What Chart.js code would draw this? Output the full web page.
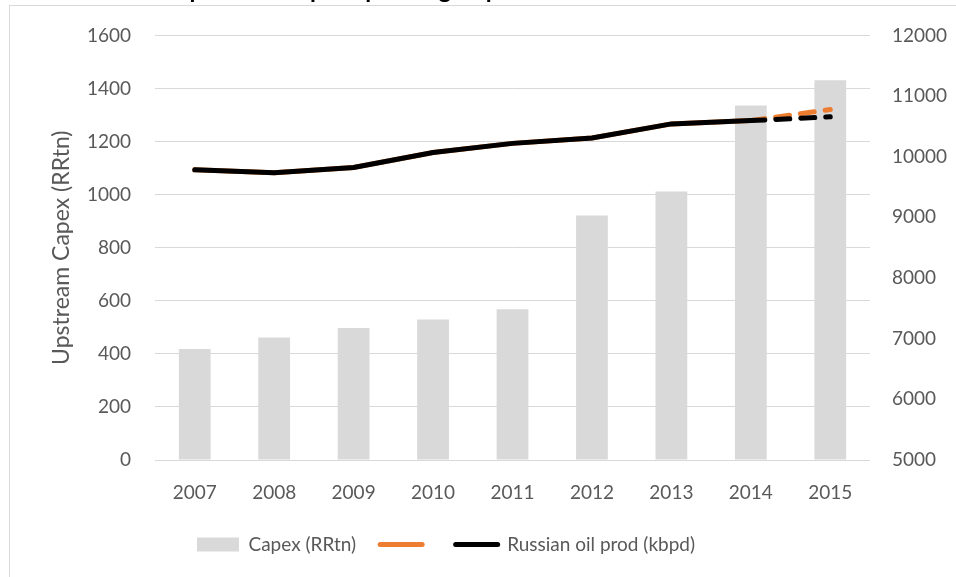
<!DOCTYPE html>
<html>
<head>
<meta charset="utf-8">
<script src="https://cdn.jsdelivr.net/npm/chart.js@4"></script>
<style>
  html, body { margin: 0; padding: 0; background: #fff; overflow: hidden; }
  #wrap { position: relative; width: 956px; height: 577px; }
  #frame { position: absolute; left: 9px; top: 5px; width: 960px; height: 600px; border: 1px solid #d9d9d9; box-sizing: border-box; }
  canvas { position: absolute; left: 0; top: 0; }
</style>
</head>
<body>
<div id="wrap">
  <div id="frame"></div>
  <canvas id="chart" width="956" height="577"></canvas>
</div>
<script>
// chart data
const chartTitle = "Upstream Capex spending vs production";
const years = ["2007", "2008", "2009", "2010", "2011", "2012", "2013", "2014", "2015"];
const capex = [418, 462, 497, 529, 568, 921, 1012, 1336, 1431];
const oilProd = [9785, 9735, 9823, 10070, 10220, 10310, 10541, 10596, 10657];
const oilProdAlt = [9785, 9735, 9823, 10070, 10220, 10310, 10541, 10596, 10778];
const forecastFrom = 7; // index where dashed part starts

const textColor = "#595959";
const gridColor = "#d9d9d9";
const fontFamily = "Lato, 'Open Sans', sans-serif";

const dashAfter = (ctx) => (ctx.p0DataIndex >= forecastFrom ? [14, 11] : undefined);
const plainNumber = (v) => String(v);

// title sits mostly above the visible area, only its lower part shows
const cutTitle = {
  id: "cutTitle",
  afterDraw(chart) {
    const ctx = chart.ctx;
    ctx.save();
    ctx.font = "bold 24px " + fontFamily;
    ctx.fillStyle = "#000";
    ctx.textBaseline = "alphabetic";
    ctx.fillText(chartTitle, 172, -2);
    ctx.restore();
  },
};

// legend in the original sits a bit left of centre
const legendShift = {
  id: "legendShift",
  afterLayout(chart) {
    chart.legend.left -= 32;
    chart.legend.right -= 32;
  },
};

new Chart(document.getElementById("chart"), {
  type: "bar",
  data: {
    labels: years,
    datasets: [
      {
        type: "bar",
        label: "Capex (RRtn)",
        data: capex,
        backgroundColor: gridColor,
        barPercentage: 0.4,
        categoryPercentage: 1,
        yAxisID: "y",
        order: 3,
      },
      {
        type: "line",
        label: "",
        data: oilProdAlt,
        borderColor: "#ed7d31",
        borderWidth: 5,
        borderCapStyle: "round",
        pointRadius: 0,
        tension: 0,
        segment: { borderDash: dashAfter },
        yAxisID: "y2",
        order: 2,
      },
      {
        type: "line",
        label: "Russian oil prod (kbpd)",
        data: oilProd,
        borderColor: "#000000",
        borderWidth: 5,
        borderCapStyle: "round",
        pointRadius: 0,
        tension: 0,
        segment: { borderDash: dashAfter },
        yAxisID: "y2",
        order: 1,
      },
    ],
  },
  options: {
    responsive: false,
    animation: false,
    layout: { padding: { top: 35, left: 0, right: 0, bottom: 13 } },
    plugins: {
      title: { display: false },
      tooltip: { enabled: false },
      legend: {
        position: "bottom",
        labels: {
          usePointStyle: true,
          pointStyleWidth: 42,
          boxHeight: 14,
          padding: 24,
          color: textColor,
          font: { family: fontFamily, size: 19 },
          generateLabels(chart) {
            return chart.data.datasets.map((ds, i) => {
              const isBar = ds.type === "bar";
              return {
                text: ds.label,
                datasetIndex: i,
                pointStyle: isBar ? "rect" : "line",
                fillStyle: isBar ? ds.backgroundColor : ds.borderColor,
                strokeStyle: isBar ? ds.backgroundColor : ds.borderColor,
                lineWidth: isBar ? 0 : 5,
                lineCap: "round",
                fontColor: textColor,
              };
            });
          },
        },
      },
    },
    scales: {
      x: {
        grid: { display: false, drawTicks: false },
        border: { display: false },
        ticks: { color: textColor, font: { family: fontFamily, size: 19 }, padding: 21 },
        afterFit(scale) { scale.height = 51; },
      },
      y: {
        position: "left",
        min: 0,
        max: 1600,
        ticks: { stepSize: 200, callback: plainNumber, color: textColor, font: { family: fontFamily, size: 19 }, padding: 24 },
        grid: { color: gridColor, lineWidth: 1, drawTicks: false },
        border: { display: false },
        title: {
          display: true,
          text: "Upstream Capex (RRtn)",
          color: textColor,
          font: { family: fontFamily, size: 23 },
          padding: { top: 48, bottom: 0 },
        },
        afterFit(scale) { scale.width = 155; },
      },
      y2: {
        position: "right",
        min: 5000,
        max: 12000,
        ticks: { stepSize: 1000, callback: plainNumber, color: textColor, font: { family: fontFamily, size: 19 }, padding: 22 },
        grid: { display: false, drawTicks: false },
        border: { display: false },
        afterFit(scale) { scale.width = 86; },
      },
    },
  },
  plugins: [cutTitle, legendShift],
});
</script>
</body>
</html>
